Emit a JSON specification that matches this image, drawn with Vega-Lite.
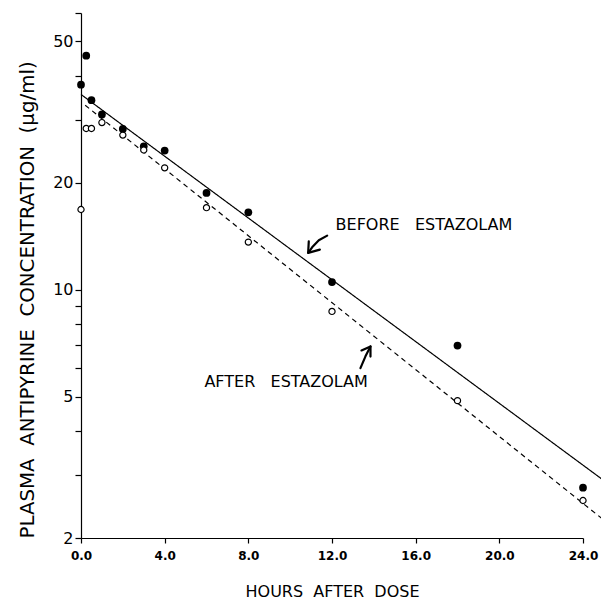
{
  "$schema": "https://vega.github.io/schema/vega-lite/v6.json",
  "width": 502,
  "height": 525,
  "autosize": {"type": "none"},
  "padding": {"left": 81, "top": 13, "right": 18, "bottom": 62},
  "background": "white",
  "config": {
    "view": {"stroke": null},
    "font": "DejaVu Sans",
    "axis": {"grid": false, "domainColor": "black", "tickColor": "black", "labelColor": "black", "titleColor": "black", "titleFontWeight": "normal", "domainWidth": 1.2, "tickWidth": 1.2}
  },
  "datasets": {
    "points": [
      {"hours": 0, "conc": 37.7, "group": "before"},
      {"hours": 0.25, "conc": 45.5, "group": "before"},
      {"hours": 0.5, "conc": 34.1, "group": "before"},
      {"hours": 1, "conc": 31.1, "group": "before"},
      {"hours": 2, "conc": 28.3, "group": "before"},
      {"hours": 3, "conc": 25.3, "group": "before"},
      {"hours": 4, "conc": 24.6, "group": "before"},
      {"hours": 6, "conc": 18.7, "group": "before"},
      {"hours": 8, "conc": 16.5, "group": "before"},
      {"hours": 12, "conc": 10.5, "group": "before"},
      {"hours": 18, "conc": 6.96, "group": "before"},
      {"hours": 24, "conc": 2.77, "group": "before"},
      {"hours": 0, "conc": 16.8, "group": "after"},
      {"hours": 0.25, "conc": 28.4, "group": "after"},
      {"hours": 0.5, "conc": 28.4, "group": "after"},
      {"hours": 1, "conc": 29.5, "group": "after"},
      {"hours": 2, "conc": 27.2, "group": "after"},
      {"hours": 3, "conc": 24.7, "group": "after"},
      {"hours": 4, "conc": 22.0, "group": "after"},
      {"hours": 6, "conc": 17.0, "group": "after"},
      {"hours": 8, "conc": 13.6, "group": "after"},
      {"hours": 12, "conc": 8.68, "group": "after"},
      {"hours": 18, "conc": 4.87, "group": "after"},
      {"hours": 24, "conc": 2.55, "group": "after"}
    ],
    "fits": [
      {"hours": 0, "conc": 35.4, "group": "before"},
      {"hours": 24.9, "conc": 2.93, "group": "before"},
      {"hours": 0.2, "conc": 33.0, "group": "after"},
      {"hours": 24.9, "conc": 2.27, "group": "after"}
    ],
    "arrows": [
      {"part": "b_shaft", "ord": 1, "hours": 11.77, "conc": 14.18},
      {"part": "b_shaft", "ord": 2, "hours": 11.37, "conc": 13.76},
      {"part": "b_shaft", "ord": 3, "hours": 11.05, "conc": 13.15},
      {"part": "b_shaft", "ord": 4, "hours": 10.86, "conc": 12.68},
      {"part": "b_head", "ord": 1, "hours": 10.89, "conc": 13.67},
      {"part": "b_head", "ord": 2, "hours": 10.86, "conc": 12.68},
      {"part": "b_head", "ord": 3, "hours": 11.42, "conc": 12.95},
      {"part": "a_shaft", "ord": 1, "hours": 13.36, "conc": 6.01},
      {"part": "a_shaft", "ord": 2, "hours": 13.6, "conc": 6.49},
      {"part": "a_shaft", "ord": 3, "hours": 13.84, "conc": 6.92},
      {"part": "a_head", "ord": 1, "hours": 13.41, "conc": 6.74},
      {"part": "a_head", "ord": 2, "hours": 13.84, "conc": 6.92},
      {"part": "a_head", "ord": 3, "hours": 13.84, "conc": 6.48}
    ],
    "labels": [
      {"hours": 12.17, "conc": 15.23, "text": "BEFORE\u00a0\u00a0\u00a0ESTAZOLAM"},
      {"hours": 5.9, "conc": 5.5, "text": "AFTER\u00a0\u00a0\u00a0ESTAZOLAM"}
    ]
  },
  "encoding": {
    "x": {
      "field": "hours", "type": "quantitative",
      "scale": {"domain": [0, 24], "nice": false, "zero": false},
      "axis": {"values": [0, 4, 8, 12, 16, 20, 24], "format": ".1f", "labelFontSize": 12, "labelFontWeight": "bold", "tickSize": 5, "labelPadding": 7, "title": "HOURS\u00a0\u00a0AFTER\u00a0\u00a0DOSE", "titleFontSize": 16, "titlePadding": 22, "labelFlush": false}
    },
    "y": {
      "field": "conc", "type": "quantitative",
      "scale": {"type": "log", "domain": [2, 60], "nice": false},
      "axis": {"values": [2, 3, 4, 5, 6, 7, 8, 9, 10, 20, 30, 40, 50, 60], "labelExpr": "indexof([2,5,10,20,50], datum.value) >= 0 ? toString(datum.value) : ''", "labelFontSize": 16, "tickSize": 6, "labelPadding": 2, "title": "PLASMA\u00a0\u00a0ANTIPYRINE\u00a0\u00a0CONCENTRATION\u00a0\u00a0(µg/ml)", "titleFontSize": 19.8, "titleAnchor": "start", "titlePadding": 15, "labelFlush": false}
    }
  },
  "layer": [
    {
      "data": {"name": "fits"},
      "mark": {"type": "line", "color": "black", "strokeWidth": 1.2, "clip": false},
      "encoding": {
        "detail": {"field": "group"},
        "strokeDash": {"field": "group", "type": "nominal", "scale": {"domain": ["before", "after"], "range": [[1, 0], [5, 4]]}, "legend": null}
      }
    },
    {
      "data": {"name": "arrows"},
      "mark": {"type": "line", "color": "black", "strokeWidth": 2.2, "strokeCap": "round", "strokeJoin": "round"},
      "encoding": {
        "detail": {"field": "part"},
        "order": {"field": "ord", "type": "quantitative"}
      }
    },
    {
      "data": {"name": "points"},
      "transform": [{"filter": "datum.group === 'before'"}],
      "mark": {"type": "point", "shape": "circle", "filled": true, "color": "black", "size": 60, "opacity": 1},
      "encoding": {}
    },
    {
      "data": {"name": "points"},
      "transform": [{"filter": "datum.group === 'after'"}],
      "mark": {"type": "point", "shape": "circle", "filled": false, "fill": "white", "stroke": "black", "strokeWidth": 1.2, "size": 38, "opacity": 1},
      "encoding": {}
    },
    {
      "data": {"name": "labels"},
      "mark": {"type": "text", "align": "left", "baseline": "middle", "fontSize": 16, "color": "black"},
      "encoding": {"text": {"field": "text"}}
    }
  ]
}
